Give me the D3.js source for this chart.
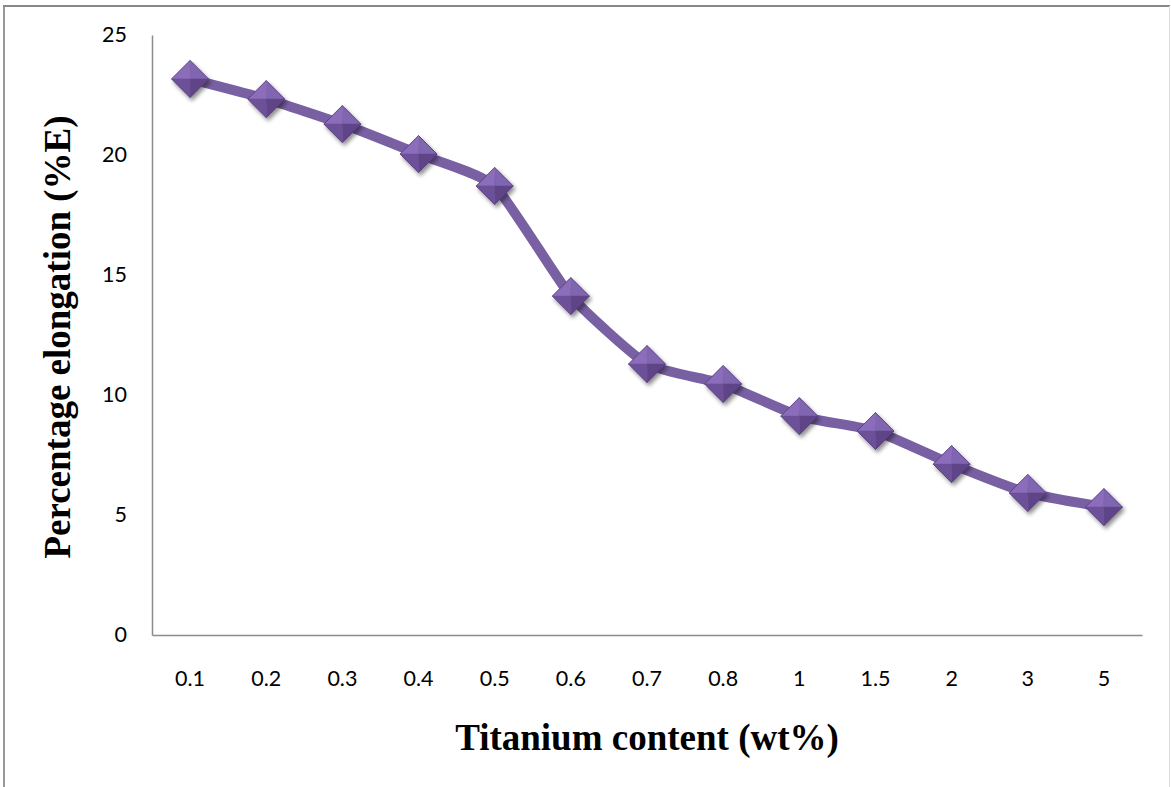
<!DOCTYPE html>
<html>
<head>
<meta charset="utf-8">
<script src="https://cdn.jsdelivr.net/npm/d3@7"></script>
<style>
  html, body { margin: 0; padding: 0; background: #fff; }
  svg { display: block; }
</style>
</head>
<body>
<div id="chart"></div>
<script>
// Titanium content (wt%) along the x axis
const categories = ["0.1", "0.2", "0.3", "0.4", "0.5", "0.6", "0.7", "0.8", "1", "1.5", "2", "3", "5"];
// Percentage elongation for each titanium content
const elongation = [23.17, 22.33, 21.29, 20.04, 18.71, 14.12, 11.29, 10.46, 9.12, 8.5, 7.12, 5.92, 5.33];
// Y axis tick values
const yTicks = [0, 5, 10, 15, 20, 25];

const W = 1171, H = 787;
const plot = { left: 152, right: 1142, top: 35, bottom: 635 };

const svg = d3.select("#chart").append("svg")
  .attr("width", W).attr("height", H);

// chart frame
svg.append("line").attr("x1", 4).attr("x2", 4).attr("y1", 5).attr("y2", H)
  .attr("stroke", "#999").attr("stroke-width", 2);
svg.append("line").attr("x1", 3).attr("x2", 1170).attr("y1", 6).attr("y2", 6)
  .attr("stroke", "#888").attr("stroke-width", 2);
svg.append("line").attr("x1", 1169.5).attr("x2", 1169.5).attr("y1", 6).attr("y2", H)
  .attr("stroke", "#ddd").attr("stroke-width", 1);

const x = d3.scaleBand().domain(categories).range([plot.left, plot.right]).padding(0);
const y = d3.scaleLinear().domain([0, 25]).range([plot.bottom, plot.top]);

const defs = svg.append("defs");
const sh = defs.append("filter").attr("id", "shadow")
  .attr("x", "-50%").attr("y", "-50%").attr("width", "200%").attr("height", "200%");
sh.append("feGaussianBlur").attr("in", "SourceAlpha").attr("stdDeviation", 2.2).attr("result", "b");
sh.append("feOffset").attr("in", "b").attr("dx", 2).attr("dy", 3).attr("result", "o");
sh.append("feComponentTransfer").attr("in", "o").attr("result", "s")
  .append("feFuncA").attr("type", "linear").attr("slope", 0.45);
const m = sh.append("feMerge");
m.append("feMergeNode").attr("in", "s");
m.append("feMergeNode").attr("in", "SourceGraphic");

// axes
const yAxis = d3.axisLeft(y).tickValues(yTicks).tickSize(0).tickPadding(25);
const gy = svg.append("g").attr("transform", `translate(${plot.left},0)`).call(yAxis);
gy.select(".domain").attr("stroke", "#8c8c8c").attr("stroke-width", 1.5);
gy.selectAll("text").attr("font-family", "Lato, 'Open Sans', sans-serif")
  .attr("font-size", 21.5).attr("fill", "#000");

const xAxis = d3.axisBottom(x).tickSize(0).tickPadding(36);
const gx = svg.append("g").attr("transform", `translate(0,${plot.bottom})`).call(xAxis);
gx.select(".domain").attr("stroke", "#8c8c8c").attr("stroke-width", 1.5);
gx.selectAll("text").attr("font-family", "Lato, 'Open Sans', sans-serif")
  .attr("font-size", 21.5).attr("fill", "#000");

// axis titles
svg.append("text")
  .attr("x", 647).attr("y", 750)
  .attr("text-anchor", "middle")
  .attr("font-family", "'Liberation Serif', 'Times New Roman', serif")
  .attr("font-weight", "bold").attr("font-size", 37)
  .text("Titanium content (wt%)");

svg.append("text")
  .attr("transform", `translate(70,${(plot.top + plot.bottom) / 2 + 2}) rotate(-90)`)
  .attr("text-anchor", "middle")
  .attr("font-family", "'Liberation Serif', 'Times New Roman', serif")
  .attr("font-weight", "bold").attr("font-size", 37)
  .text("Percentage elongation (%E)");

// smoothed series line
const pts = categories.map((c, i) => [x(c) + x.bandwidth() / 2, y(elongation[i])]);
const line = d3.line().curve(d3.curveCardinal.tension(0.5));
svg.append("path").attr("d", line(pts))
  .attr("fill", "none").attr("stroke", "#7860a2").attr("stroke-width", 10)
  .attr("stroke-linejoin", "round");

// bevelled diamond markers
const r = 18.5;
const faces = [
  { p: [[-r, 0], [0, -r], [0, 0]], c: "#8b6dbb" },
  { p: [[0, -r], [r, 0], [0, 0]], c: "#8065b0" },
  { p: [[r, 0], [0, r], [0, 0]], c: "#5f4588" },
  { p: [[0, r], [-r, 0], [0, 0]], c: "#6d5198" }
];
const mk = svg.append("g").selectAll("g").data(pts).join("g")
  .attr("transform", d => `translate(${d[0]},${d[1]})`)
  .attr("filter", "url(#shadow)");
faces.forEach(f => {
  mk.append("path").attr("d", "M" + f.p.map(q => q.join(",")).join("L") + "Z")
    .attr("fill", f.c).attr("stroke", f.c).attr("stroke-width", 0.5);
});
mk.append("path").attr("d", `M${-r},0L0,${-r}L${r},0L0,${r}Z`)
  .attr("fill", "none").attr("stroke", "#54397c").attr("stroke-width", 0.8);
</script>
</body>
</html>
